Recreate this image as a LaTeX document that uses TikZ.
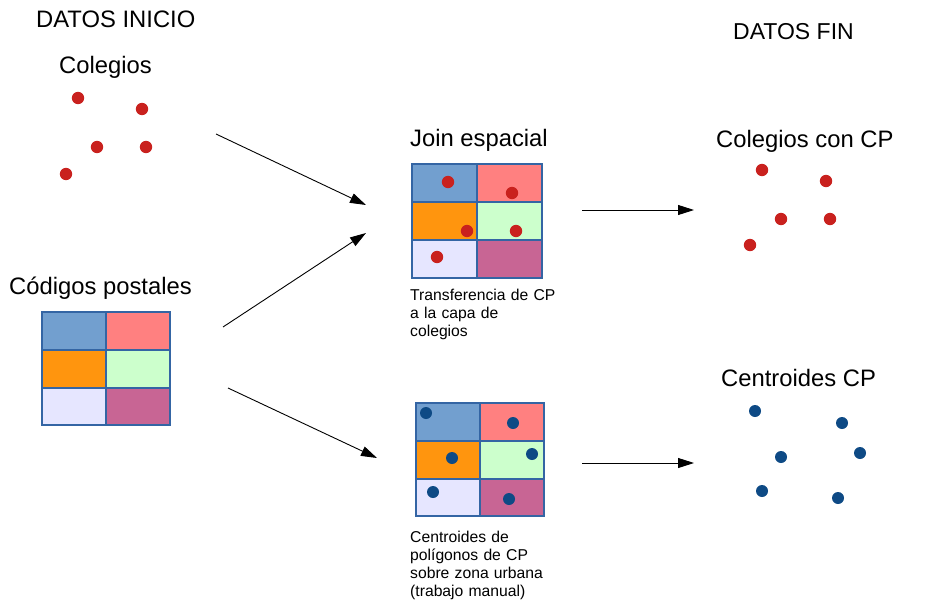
\documentclass[tikz,border=0pt]{standalone}
\usepackage{fontspec}
\setmainfont{Liberation Sans}
\usetikzlibrary{arrows.meta}
\definecolor{cellblue}{HTML}{729FCF}
\definecolor{cellpink}{HTML}{FF8080}
\definecolor{cellorange}{HTML}{FF950E}
\definecolor{cellgreen}{HTML}{CCFFCC}
\definecolor{celllav}{HTML}{E6E6FF}
\definecolor{cellmauve}{HTML}{C86594}
\definecolor{gridblue}{HTML}{3465A4}
\definecolor{dotred}{HTML}{C9211E}
\definecolor{dotblue}{HTML}{0E4A85}
\newcommand\cpgrid[7]{%
  \fill[cellblue] (#1,#2) rectangle (#5,#6);
  \fill[cellpink] (#5,#2) rectangle (#3,#6);
  \fill[cellorange] (#1,#6) rectangle (#5,#7);
  \fill[cellgreen] (#5,#6) rectangle (#3,#7);
  \fill[celllav] (#1,#7) rectangle (#5,#4);
  \fill[cellmauve] (#5,#7) rectangle (#3,#4);
  \draw[gridline] (#1,#2) rectangle (#3,#4) (#5,#2) -- (#5,#4) (#1,#6) -- (#3,#6) (#1,#7) -- (#3,#7);
}
\begin{document}
\begin{tikzpicture}[x=1pt,y=-1pt,
  bigtext/.style={anchor=base west,inner sep=0pt,font=\fontsize{23.8}{28}\selectfont},
  smalltext/.style={anchor=base west,inner sep=0pt,text width=200pt,align=left,font=\fontsize{15.7}{18.2}\selectfont},
  gridline/.style={draw=gridblue,line width=1.3pt},
  reddot/.style={fill=dotred,draw=none},
  bluedot/.style={fill=dotblue,draw=none},
  flow/.style={draw=black,line width=0.9pt,-{Triangle[length=16pt,width=10pt]}}]
\useasboundingbox (0,0) rectangle (949,615);
\fill[white] (0,0) rectangle (949,615);

% titles
\node[bigtext] (tIni) at (36,27.5) {DATOS INICIO};
\node[bigtext] (tCol) at (59,74) {Colegios};
\node[bigtext] (tCod) at (9,294) {Códigos postales};
\node[bigtext] (tJoin) at (410,146.5) {Join espacial};
\node[bigtext,font=\fontsize{23}{27}\selectfont] (tFin) at (733,39.5) {DATOS FIN};
\node[bigtext] (tColCP) at (716,147.5) {Colegios con CP};
\node[bigtext] (tCen) at (721,386.5) {Centroides CP};

\node[smalltext] (nTrans) at (410,300) {Transferencia de CP\\a la capa de\\colegios};
\node[smalltext] (nCent) at (410,542) {Centroides de\\polígonos de CP\\sobre zona urbana\\(trabajo manual)};

% grids
\cpgrid{42}{312}{170}{425}{106}{350}{388}
\cpgrid{412}{164}{542}{278}{477}{202}{240}
\cpgrid{416}{403}{544}{516}{480}{441}{479}

% Colegios dots
\foreach \p in {(78,98),(142,109),(97,147),(146,147),(66,174)}
  \fill[reddot] \p circle (6.2);
% Join dots
\foreach \p in {(448,182),(512,193),(467,231),(516,231),(437,257)}
  \fill[reddot] \p circle (6.2);
% Colegios con CP dots
\foreach \p in {(762,170),(826,181),(781,219),(830,219),(750,245)}
  \fill[reddot] \p circle (6.2);
% centroid dots in grid
\foreach \p in {(426,413),(513,423),(452,458),(532,454),(433,492),(509,499)}
  \fill[bluedot] \p circle (6);
% Centroides CP dots
\foreach \p in {(755,411),(842,423),(781,457),(860,453),(762,491),(838,498)}
  \fill[bluedot] \p circle (6);

% arrows
\coordinate (a1s) at (216,134);
\coordinate (a1e) at (366,205);
\coordinate (a2s) at (223,327);
\coordinate (a2e) at (366,233);
\coordinate (a3s) at (228,388);
\coordinate (a3e) at (377,458);
\coordinate (a4s) at (582,210);
\coordinate (a4e) at (694,210);
\coordinate (a5s) at (582,463);
\coordinate (a5e) at (694,463);
\draw[flow] (a1s) -- (a1e);
\draw[flow] (a2s) -- (a2e);
\draw[flow] (a3s) -- (a3e);
\draw[flow] (a4s) -- (a4e);
\draw[flow] (a5s) -- (a5e);
\end{tikzpicture}
\end{document}
